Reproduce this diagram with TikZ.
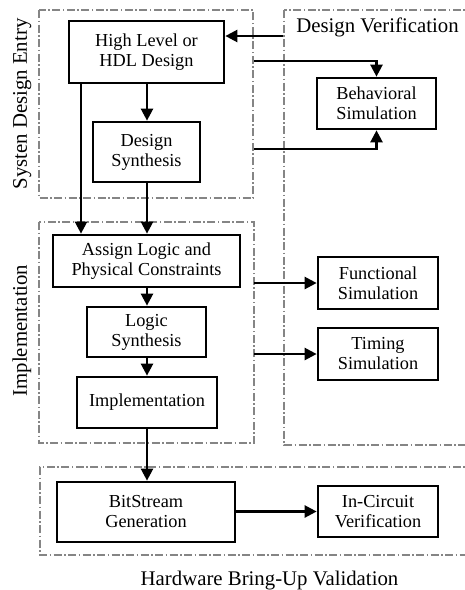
\documentclass[tikz,border=0pt]{standalone}
\usepackage{fontspec}
\setmainfont{Liberation Serif}
\usetikzlibrary{arrows.meta}
\begin{document}
\begin{tikzpicture}[x=1pt,y=-1pt,
  stage/.style={draw=black, line width=2.7pt, rectangle, inner sep=0pt, align=center,
    font=\fontsize{18.3}{20}\selectfont},
  region/.style={draw=black!48, line width=1.9pt,
    dash pattern=on 8pt off 2.5pt on 1.5pt off 2.5pt},
  regionlabel/.style={font=\fontsize{20.8}{24}\selectfont, inner sep=0pt},
  flow/.style={line width=2.4pt, -{Triangle[length=12pt,width=12pt]}},
  link/.style={line width=2.4pt}]
\useasboundingbox (0,0) rectangle (464,590);

% dash-dot regions
\draw[region] (39,10) rectangle (253,198);
\draw[region] (39,222) rectangle (254,443);
\draw[region] (284,10) -- (284,445) -- (475,445);
\draw[region] (475,10) -- (284,10);
\draw[region] (475,467) -- (40,467) -- (40,555) -- (475,555);

% region labels
\node[regionlabel, rotate=90, anchor=base] (lsde) at (27,104) {Systen Design Entry};
\node[regionlabel, rotate=90, anchor=base] (limp) at (27,330.5) {Implementation};
\node[regionlabel, anchor=base] (ldv) at (377.5,32) {Design Verification};
\node[regionlabel, anchor=base] (lhbv) at (269.5,585) {Hardware Bring-Up Validation};

% processing stages
\node[stage, minimum width=155pt, minimum height=62pt] (hl) at (146.5,52) {High Level or\\HDL Design};
\node[stage, minimum width=107pt, minimum height=60pt] (ds) at (146.5,152) {Design\\Synthesis};
\node[stage, minimum width=187pt, minimum height=52pt] (as) at (146.5,261) {Assign Logic and\\Physical Constraints};
\node[stage, minimum width=119pt, minimum height=50pt] (ls) at (146.5,332) {Logic\\Synthesis};
\node[stage, minimum width=140pt, minimum height=51pt] (im) at (147,402.5) {Implementation};
\node[stage, minimum width=178pt, minimum height=60pt] (bs) at (146,512) {BitStream\\Generation};
\node[stage, minimum width=119pt, minimum height=51pt] (beh) at (376.5,103.5) {Behavioral\\Simulation};
\node[stage, minimum width=120pt, minimum height=52pt] (fun) at (378,283) {Functional\\Simulation};
\node[stage, minimum width=120pt, minimum height=52pt] (tim) at (378,354) {Timing\\Simulation};
\node[stage, minimum width=120pt, minimum height=51pt] (ic) at (378,511.5) {In-Circuit\\Verification};

% free ends of the branch lines
\coordinate (dvin) at (283,36);
\coordinate (bhtop) at (254,61);
\coordinate (bhbot) at (254,149);
\coordinate (fnsrc) at (254,283);
\coordinate (tmsrc) at (254,354);
\coordinate (skip) at (81,0);
\coordinate (main) at (147,0);

% main flow
\draw[flow] (dvin) -- (hl.east |- dvin);
\draw[flow] (hl.south -| main) -- (ds.north -| main);
\draw[flow] (hl.south -| skip) -- (as.north -| skip);
\draw[flow] (ds.south -| main) -- (as.north -| main);
\draw[flow] (as.south -| main) -- (ls.north -| main);
\draw[flow] (ls.south -| main) -- (im.north -| main);
\draw[flow] (im.south -| main) -- (bs.north -| main);
\draw[flow] (bs.east |- ic.west) -- (ic.west);

% verification branches
\draw[flow] (bhtop) -- (bhtop -| beh.north) -- (beh.north);
\draw[flow] (bhbot) -- (bhbot -| beh.south) -- (beh.south);
\draw[flow] (fnsrc) -- (fun.west |- fnsrc);
\draw[flow] (tmsrc) -- (tim.west |- tmsrc);
\end{tikzpicture}
\end{document}
